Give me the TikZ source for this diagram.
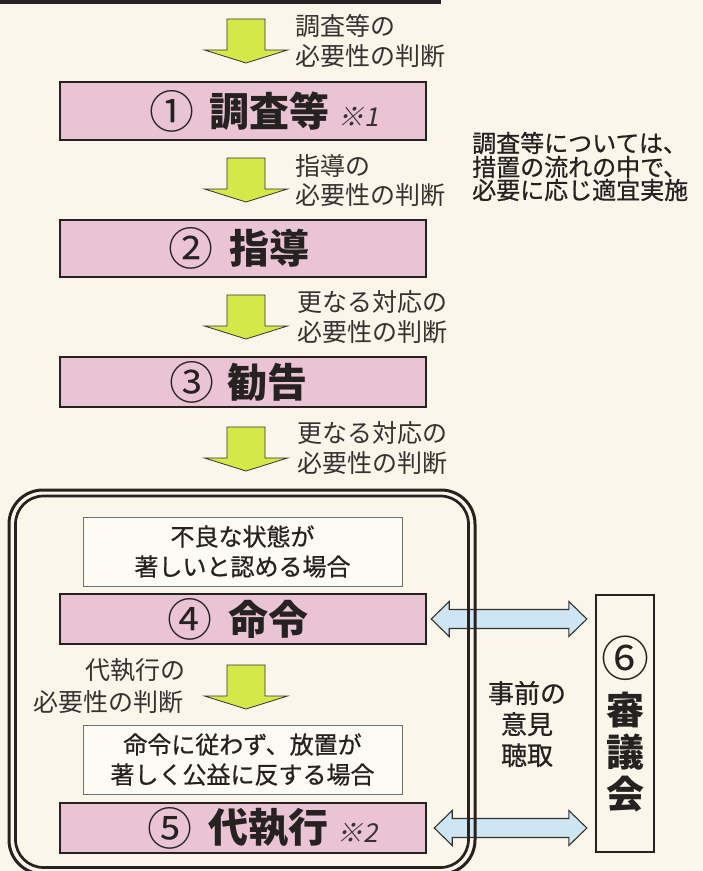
\documentclass[tikz,border=0pt]{standalone}
\usepackage{fontspec}
\newfontfamily\jp{Noto Sans CJK JP}
\newfontfamily\jpmed{Noto Sans CJK JP}[FakeBold=0.7]
\newfontfamily\jpsl{Noto Sans CJK JP}[FakeSlant=0.2]
\usetikzlibrary{calc}
\definecolor{bg}{RGB}{250,246,234}
\definecolor{pinkbox}{RGB}{234,196,212}
\definecolor{ygreen}{RGB}{214,232,72}
\definecolor{lblue}{RGB}{206,229,244}
\definecolor{ink}{RGB}{38,34,34}
\definecolor{labink}{RGB}{55,50,50}
\definecolor{boxwhite}{RGB}{253,251,245}
\definecolor{condline}{RGB}{110,110,110}
\tikzset{
  stagebox/.style={draw=ink, line width=2.5pt, fill=pinkbox, minimum width=366pt, minimum height=50pt, inner sep=0pt},
  stagetext/.style={inner sep=0pt, text=ink, font=\jp\fontsize{40}{40}\selectfont\bfseries},
  circnum/.style={inner sep=0pt, text=ink, font=\jp\fontsize{45}{45}\selectfont},
  starnote/.style={inner sep=0pt, anchor=base west, text=labink, font=\jpsl\fontsize{26}{26}\selectfont},
  condbox/.style={draw=condline, line width=1pt, fill=boxwhite, minimum width=319pt, minimum height=69pt, inner sep=0pt, align=center, text=ink, font=\jpmed\fontsize{24}{30}\selectfont},
  flowlab/.style={inner sep=0pt, anchor=west, text=labink, font=\jp\fontsize{25}{25}\selectfont},
  sidenote/.style={inner sep=0pt, anchor=west, text=ink, font=\jpmed\fontsize{24}{24}\selectfont},
  yarrow/.pic={\draw[fill=ygreen, draw=labink, line width=0.8pt, line join=miter] (-19,0) -- (19,0) -- (19,31) -- (41.5,31) -- (0,44) -- (-41.5,31) -- (-19,31) -- cycle;},
  barrow/.style={fill=lblue, draw=labink, line width=1.1pt, line join=miter},
  dline/.style={draw=ink, line width=3pt}
}
\begin{document}
\begin{tikzpicture}[x=1pt,y=-1pt]
\useasboundingbox (0,0) rectangle (703,871);
\fill[bg] (0,0) rectangle (703,871);
% cut-off box at the top
\draw[ink, line width=3.5pt] (0,1.75) -- (441,1.75);

% stage boxes
\node[stagebox, minimum height=58pt] (s1) at (243,111) {};
\node[stagebox, minimum height=57pt] (s2) at (243,248.5) {};
\node[stagebox] (s3) at (243,382) {};
\node[condbox] (ca) at (242.5,551.5) {不良な状態が\\著しいと認める場合};
\node[stagebox] (s4) at (243,619) {};
\node[condbox] (cb) at (242.5,759.5) {命令に従わず、放置が\\著しく公益に反する場合};
\node[stagebox] (s5) at (243,828) {};
\node[draw=ink, line width=2.3pt, minimum width=58pt, minimum height=257pt, inner sep=0pt] (council) at (625,723.5) {};

% yellow arrows
\pic at (246,19) {yarrow};
\pic at (246,158) {yarrow};
\pic at (246,295) {yarrow};
\pic at (246,427) {yarrow};
\pic at (246,665) {yarrow};

% blue double arrows
\coordinate (d1l) at ($(s4.east)+(4,0)$);
\coordinate (d1r) at ($(council.west |- s4.east)+(-8,0)$);
\coordinate (d2l) at ($(s5.east)+(7,0)$);
\coordinate (d2r) at ($(council.west |- s5.east)+(-8,0)$);
\draw[barrow] (d1l) -- ++(18,-17.5) -- ++(0,8) -- ($(d1r)+(-18,-9.5)$) -- ++(0,-8) -- (d1r) -- ++(-18,17.5) -- ++(0,-8) -- ($(d1l)+(18,9.5)$) -- ++(0,8) -- cycle;
\draw[barrow] (d2l) -- ++(18,-17.5) -- ++(0,8) -- ($(d2r)+(-18,-9.5)$) -- ++(0,-8) -- (d2r) -- ++(-18,17.5) -- ++(0,-8) -- ($(d2l)+(18,9.5)$) -- ++(0,8) -- cycle;

% double-line rounded frame
\draw[dline, rounded corners=34pt] (9,490) rectangle (475,874);
\draw[dline, line width=2.7pt, rounded corners=28pt] (15.5,496) rectangle (468.5,867.5);

% stage labels
\node[circnum] (s1n) at (172,111) {①};
\node[stagetext] (s1t) at (269,111) {調査等};
\node[starnote] (s1x) at ([xshift=9pt]s1t.base east) {※1};
\node[circnum] (s2n) at (190.5,248.5) {②};
\node[stagetext] (s2t) at (269,248.5) {指導};
\node[circnum] (s3n) at (191.5,382) {③};
\node[stagetext] (s3t) at (267.5,382) {勧告};
\node[circnum] (s4n) at (190,619) {④};
\node[stagetext] (s4t) at (268.5,619) {命令};
\node[circnum] (s5n) at (170,828) {⑤};
\node[stagetext] (s5t) at (268,828) {代執行};
\node[starnote] (s5x) at ([xshift=9pt]s5t.base east) {※2};

% flow labels
\node[flowlab] (l1a) at (295,26) {調査等の};
\node[flowlab] (l1b) at (295,56) {必要性の判断};
\node[flowlab] (l2a) at (295,166) {指導の};
\node[flowlab] (l2b) at (295,195) {必要性の判断};
\node[flowlab] (l3a) at (297,302) {更なる対応の};
\node[flowlab] (l3b) at (297,332) {必要性の判断};
\node[flowlab] (l4a) at (297,433) {更なる対応の};
\node[flowlab] (l4b) at (297,463) {必要性の判断};
\node[flowlab] (l5a) at (85,670) {代執行の};
\node[flowlab] (l5b) at (33,702) {必要性の判断};

% side note
\node[sidenote] (n1) at (472,143) {調査等については、};
\node[sidenote] (n2) at (472,167) {措置の流れの中で、};
\node[sidenote] (n3) at (472,190) {必要に応じ適宜実施};

% hearing text
\node[inner sep=0pt, align=center, text=ink, font=\jpmed\fontsize{26}{31}\selectfont] (hear) at (527,724) {事前の\\意見\\聴取};

% council text
\node[inner sep=0pt, text=ink, font=\jp\fontsize{48}{48}\selectfont] (c6) at (625,658) {⑥};
\node[inner sep=0pt, align=center, text=ink, font=\jp\fontsize{38}{42}\selectfont\bfseries] (c6t) at (625,752) {審\\議\\会};
\end{tikzpicture}
\end{document}
